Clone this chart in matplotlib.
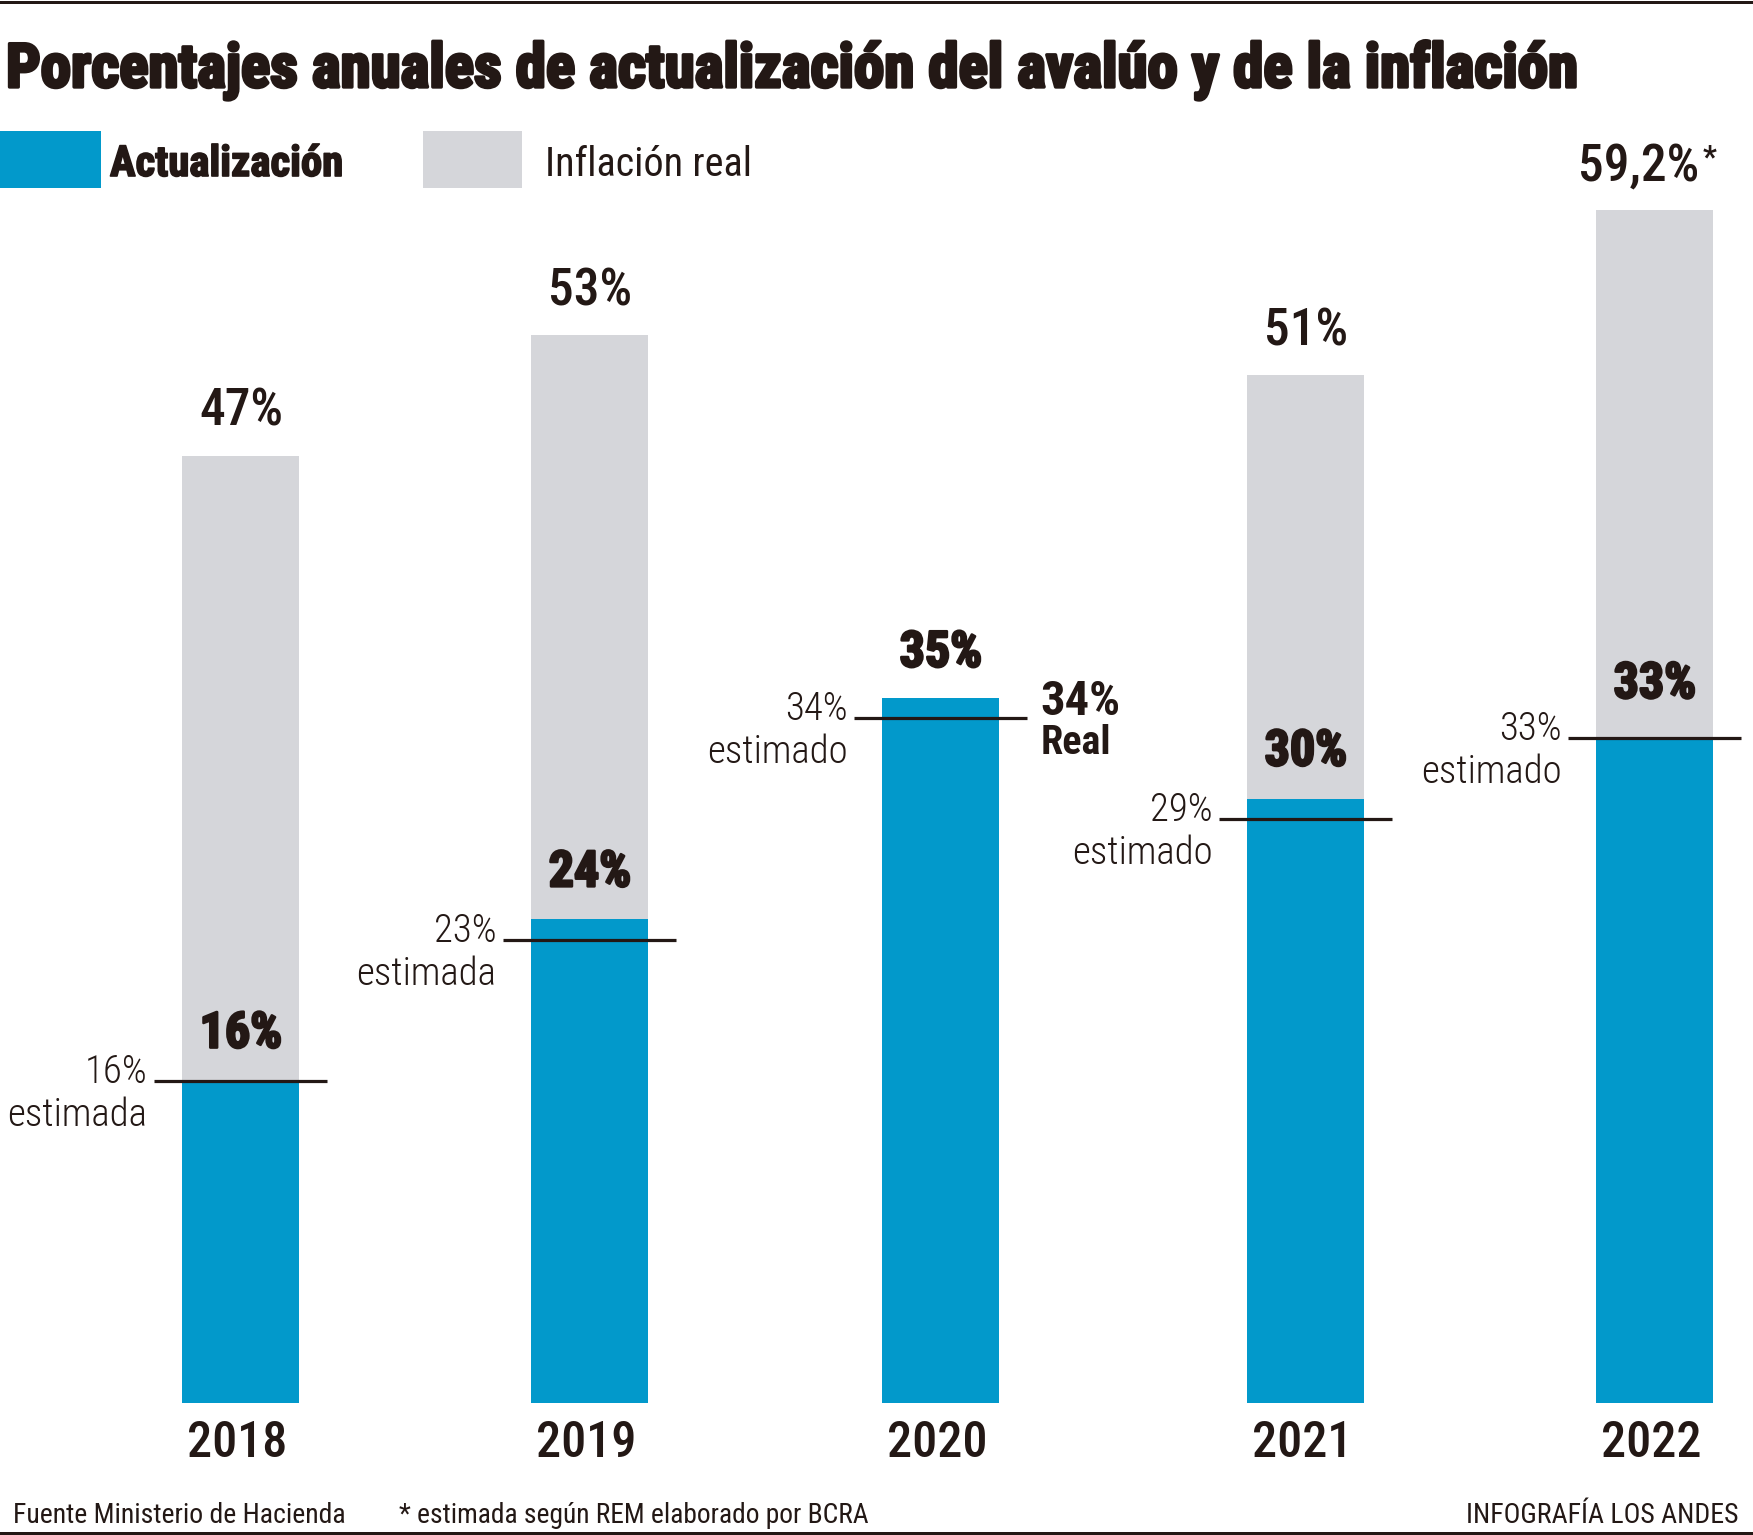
import os
import numpy as np
import matplotlib
matplotlib.use("Agg")
import matplotlib.pyplot as plt
from matplotlib import font_manager as fm
from matplotlib.font_manager import FontProperties
from matplotlib.patches import Rectangle
from matplotlib.lines import Line2D
import matplotlib.patheffects as pe

# ---------------- data ----------------
years = ["2018", "2019", "2020", "2021", "2022"]
actualizacion = [16, 24, 35, 30, 33]
inflacion_real = [47, 53, 34, 51, 59.2]
actualizacion_estimada = [16, 23, 34, 29, 33]
inflacion_labels = ["47%", "53%", "", "51%", "59,2%"]
inflacion_marks = ["", "", "", "", "*"]
actualizacion_labels = ["16%", "24%", "35%", "30%", "33%"]
estimada_labels = ["16%", "23%", "34%", "29%", "33%"]
estimada_words = ["estimada", "estimada", "estimado", "estimado", "estimado"]
real_index = 2
real_labels = ["34%", "Real"]
title = "Porcentajes anuales de actualización del avalúo y de la inflación"
legend_labels = ["Actualización", "Inflación real"]
source_text = "Fuente Ministerio de Hacienda"
note_text = "* estimada según REM elaborado por BCRA"
credit_text = "INFOGRAFÍA LOS ANDES"

# ---------------- layout / style ----------------
W_PX, H_PX = 1753, 1535
BASE_Y = 1403                            # baseline of bars (px from top)
PX_PER_PCT = 20.15
BAR_CENTERS_PX = [241, 590, 941, 1306, 1655]
BAR_W_PX = 117
EXT_PX = 28
BLUE_LABEL_GAP_PX = [33, 33, 31, 33, 40]
PT = 0.72                                # points per pixel at dpi 100

BLUE = "#0299CB"
GRAY = "#D5D6DA"
INK = "#231815"

# ---------------- fonts ----------------
WMAP = {"thin": 100, "extra light": 200, "ultralight": 200, "light": 300,
        "normal": 400, "regular": 400, "book": 400, "roman": 400,
        "medium": 500, "semibold": 600, "demibold": 600, "demi": 600,
        "bold": 700, "extra bold": 800, "heavy": 800, "black": 900}


def _w(v):
    if isinstance(v, (int, float)):
        return float(v)
    return float(WMAP.get(str(v).lower(), 400))


def _is_cond(f):
    s = f.stretch
    if isinstance(s, (int, float)):
        return s < 500
    s = str(s).lower()
    return "condensed" in s or "narrow" in s


def _width_pen(fname):
    b = os.path.basename(fname).lower()
    if "extracondensed" in b or "ultracondensed" in b:
        return 2
    if "semicondensed" in b:
        return 1
    return 0


FAMILY_PREF = ["Roboto Condensed", "Noto Sans", "Open Sans",
               "Liberation Sans Narrow", "DejaVu Sans"]
_cands = [f for f in fm.fontManager.ttflist if _is_cond(f) and f.style == "normal"]


def font(weight, size):
    tw = _w(weight)
    for fam in FAMILY_PREF:
        c = [f for f in _cands if f.name == fam]
        if c:
            best = min(c, key=lambda f: (abs(_w(f.weight) - tw), _width_pen(f.fname)))
            return FontProperties(fname=best.fname, size=size)
    return FontProperties(family=["Roboto", "DejaVu Sans"], weight=weight, size=size)


# ---------------- figure ----------------
fig = plt.figure(figsize=(W_PX / 100, H_PX / 100), dpi=100)
fig.patch.set_facecolor("white")


def fxy(px, py):
    return (px / W_PX, 1 - py / H_PX)


ax = fig.add_axes([0, 1 - BASE_Y / H_PX, 1, BASE_Y / H_PX])
ax.set_xlim(0, W_PX)
ax.set_ylim(0, BASE_Y / PX_PER_PCT)
ax.axis("off")

x = np.array(BAR_CENTERS_PX, dtype=float)
bw = BAR_W_PX
ext = EXT_PX

ax.bar(x, inflacion_real, bw, color=GRAY, zorder=1)
ax.bar(x, actualizacion, bw, color=BLUE, zorder=2)
ax.hlines(actualizacion_estimada, x - bw / 2 - ext, x + bw / 2 + ext,
          colors=INK, lw=3.2 * PT, zorder=3)

heavy = [pe.withStroke(linewidth=1.8, foreground=INK)]

# inflation labels above grey bars
for i, lbl in enumerate(inflacion_labels):
    if not lbl:
        continue
    dx = -16 if inflacion_marks[i] else 0
    t = ax.annotate(lbl, (x[i], inflacion_real[i]), xytext=(dx * PT, 30 * PT),
                    textcoords="offset points", ha="center", va="baseline",
                    fontproperties=font(500, 37), color=INK)
    if inflacion_marks[i]:
        ax.annotate(inflacion_marks[i], (1, 1), xycoords=t, xytext=(3 * PT, -1 * PT),
                    textcoords="offset points", ha="left", va="top",
                    fontproperties=font(700, 22), color=INK)

# actualizacion labels above blue bars
for i, lbl in enumerate(actualizacion_labels):
    ax.annotate(lbl, (x[i], actualizacion[i]), xytext=(0, BLUE_LABEL_GAP_PX[i] * PT),
                textcoords="offset points", ha="center", va="baseline",
                fontproperties=font(800, 36), color=INK, path_effects=heavy)

# estimated labels (left of each line)
for i in range(len(years)):
    xl = x[i] - bw / 2 - ext
    ax.annotate(estimada_labels[i], (xl, actualizacion_estimada[i]),
                xytext=(-7 * PT, -2 * PT), textcoords="offset points",
                ha="right", va="baseline", fontproperties=font(300, 28), color=INK)
    ax.annotate(estimada_words[i], (xl, actualizacion_estimada[i]),
                xytext=(-7 * PT, -45 * PT), textcoords="offset points",
                ha="right", va="baseline", fontproperties=font(300, 28), color=INK)

# real inflation label for 2020
xr = x[real_index] + bw / 2 + ext
ax.annotate(real_labels[0], (xr, actualizacion_estimada[real_index]),
            xytext=(13 * PT, 3 * PT), textcoords="offset points",
            ha="left", va="baseline", fontproperties=font(600, 35), color=INK)
ax.annotate(real_labels[1], (xr, actualizacion_estimada[real_index]),
            xytext=(13 * PT, -36 * PT), textcoords="offset points",
            ha="left", va="baseline", fontproperties=font(600, 29), color=INK)

# year labels
for i, yr in enumerate(years):
    ax.annotate(yr, (x[i], 0), xytext=(-4 * PT, -54 * PT), textcoords="offset points",
                ha="center", va="baseline", fontproperties=font(500, 36), color=INK)

# ---------------- title, legend, footer ----------------
t_title = fig.text(*fxy(6, 87), title, ha="left", va="baseline",
                   fontproperties=font(900, 38.5), color=INK,
                   path_effects=[pe.withStroke(linewidth=2.4, foreground=INK)])

fig.add_artist(Rectangle(fxy(0, 188), 101 / W_PX, 57 / H_PX,
                         transform=fig.transFigure, color=BLUE, lw=0))
fig.add_artist(Rectangle(fxy(423, 188), 99 / W_PX, 57 / H_PX,
                         transform=fig.transFigure, color=GRAY, lw=0))
t_leg1 = fig.text(*fxy(110, 176), legend_labels[0], ha="left", va="baseline",
                  fontproperties=font(700, 30), color=INK,
                  path_effects=[pe.withStroke(linewidth=1.2, foreground=INK)])
t_leg2 = fig.text(*fxy(545, 176), legend_labels[1], ha="left", va="baseline",
                  fontproperties=font(400, 30), color=INK)

t_src = fig.text(*fxy(13, 1523), source_text, ha="left", va="baseline",
                 fontproperties=font(400, 20), color=INK)
t_note = fig.text(*fxy(399, 1523), note_text, ha="left", va="baseline",
                  fontproperties=font(400, 20), color=INK)
t_cred = fig.text(*fxy(1738, 1523), credit_text, ha="right", va="baseline",
                  fontproperties=font(400, 20), color=INK)

# rules
fig.add_artist(Line2D([0, 1], [1 - 1.5 / H_PX] * 2, transform=fig.transFigure,
                      color=INK, lw=3 * PT))
fig.add_artist(Line2D([0, 1], [1 - 1533 / H_PX] * 2, transform=fig.transFigure,
                      color=INK, lw=3 * PT))

# fit widths of word texts to the reference widths
renderer = fig.canvas.get_renderer()
for t, target in [(t_title, 1574), (t_leg1, 233), (t_leg2, 207),
                  (t_src, 332), (t_note, 470), (t_cred, 273)]:
    w = t.get_window_extent(renderer).width
    t.set_fontsize(t.get_fontsize() * target / w)

fig.savefig("out.png", dpi=100, facecolor="white")
